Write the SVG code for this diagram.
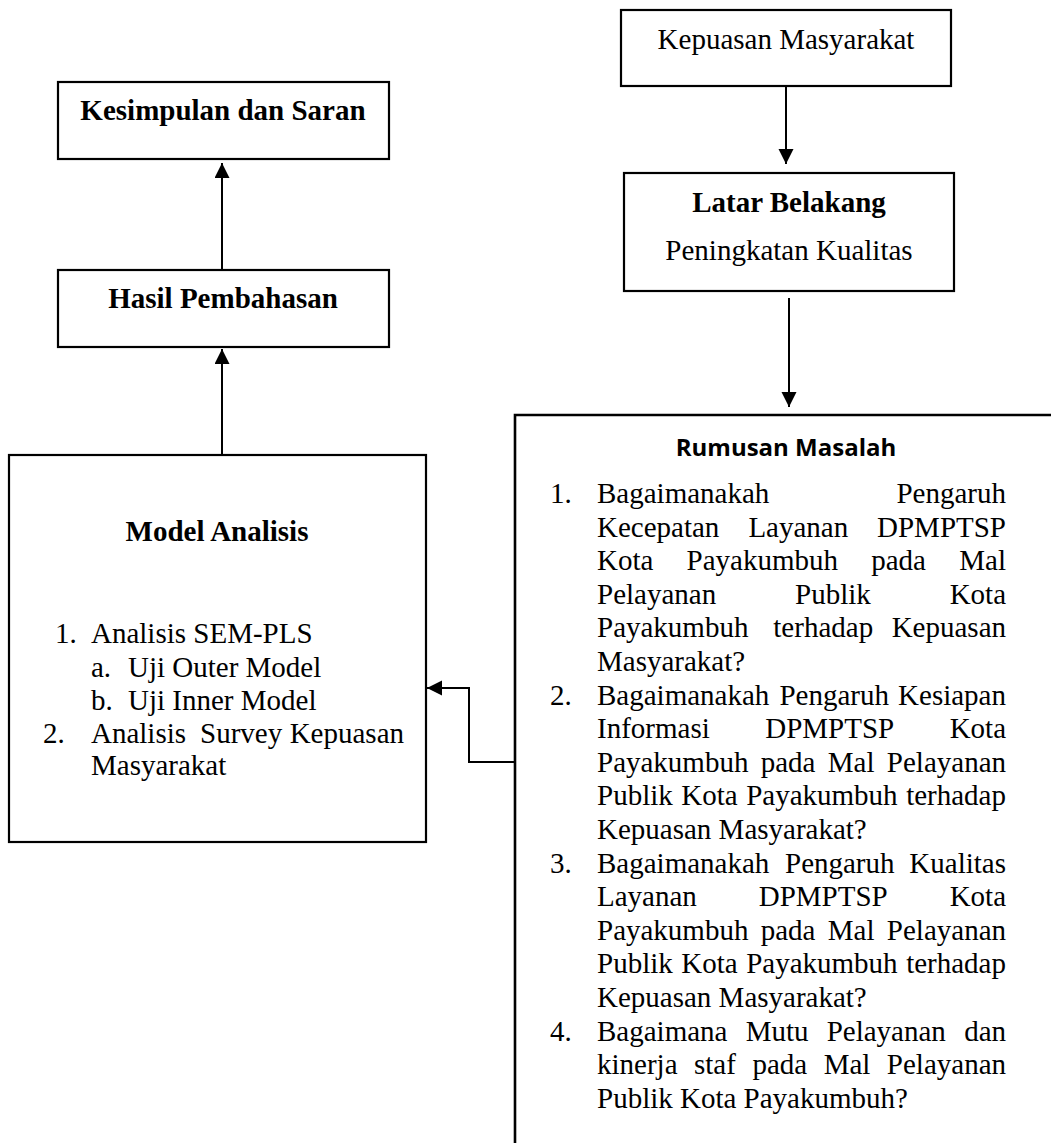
<svg xmlns="http://www.w3.org/2000/svg" width="1051" height="1143" viewBox="0 0 1051 1143">
<style>
.box{fill:#fff;stroke:#000;stroke-width:2.2}
.t{font-family:"Liberation Serif","Times New Roman",serif;font-size:29px;fill:#000}
.b{font-weight:bold}
.c{text-anchor:middle}
.e{text-anchor:end}
.h{font-family:"Open Sans","Noto Sans",sans-serif;font-size:24px;font-weight:bold;fill:#000;text-anchor:middle}
.ln{fill:none;stroke:#000;stroke-width:2}
</style>
<defs>
<marker id="ah" markerWidth="16" markerHeight="16" refX="15" refY="7.5" orient="auto" markerUnits="userSpaceOnUse">
<path d="M0,0 L15,7.5 L0,15 Z" fill="#000"/>
</marker>
</defs>
<rect width="1051" height="1143" fill="#fff"/>

<g id="connectors">
<line class="ln" x1="786" y1="86" x2="786" y2="164" marker-end="url(#ah)"/>
<line class="ln" x1="789" y1="298" x2="789" y2="407" marker-end="url(#ah)"/>
<line class="ln" x1="222" y1="270" x2="222" y2="163" marker-end="url(#ah)"/>
<line class="ln" x1="222" y1="455" x2="222" y2="349" marker-end="url(#ah)"/>
<polyline class="ln" points="515,762 469,762 469,688 427,688" marker-end="url(#ah)"/>
</g>

<g id="kepuasan">
<rect class="box" x="621" y="10" width="330" height="76"/>
<text class="t c" x="786" y="49">Kepuasan Masyarakat</text>
</g>

<g id="latar">
<rect class="box" x="624" y="173" width="330" height="118"/>
<text class="t b c" x="789" y="212">Latar Belakang</text>
<text class="t c" x="789" y="260">Peningkatan Kualitas</text>
</g>

<g id="kesimpulan">
<rect class="box" x="58" y="82" width="331" height="77"/>
<text class="t b c" x="223" y="120">Kesimpulan dan Saran</text>
</g>

<g id="hasil">
<rect class="box" x="58" y="270" width="331" height="77"/>
<text class="t b c" x="223" y="308">Hasil Pembahasan</text>
</g>

<g id="model">
<rect class="box" x="9" y="455" width="417" height="387"/>
<text class="t b c" x="217" y="541">Model Analisis</text>
<text class="t" x="55" y="643">1.</text>
<text class="t" x="91" y="643">Analisis SEM-PLS</text>
<text class="t" x="91" y="677">a.</text>
<text class="t" x="128" y="677">Uji Outer Model</text>
<text class="t" x="91" y="710">b.</text>
<text class="t" x="128" y="710">Uji Inner Model</text>
<text class="t" x="43" y="743">2.</text>
<text class="t" x="91" y="743">Analisis</text>
<text class="t" x="200" y="743">Survey</text>
<text class="t e" x="404" y="743">Kepuasan</text>
<text class="t" x="91" y="775">Masyarakat</text>
</g>

<g id="rumusan">
<path d="M515,1145 L515,415 L1053,415" fill="none" stroke="#000" stroke-width="2.6"/>
<text class="h" x="786" y="456">Rumusan Masalah</text>
<text class="t" x="550" y="503">1.</text>
<text class="t" x="597" y="503">Bagaimanakah</text>
<text class="t e" x="1006" y="503">Pengaruh</text>
<text class="t" x="597" y="536.6">Kecepatan</text>
<text class="t" x="748.4" y="536.6">Layanan</text>
<text class="t e" x="1006" y="536.6">DPMPTSP</text>
<text class="t" x="597" y="570.2">Kota</text>
<text class="t" x="686.6" y="570.2">Payakumbuh</text>
<text class="t" x="871.2" y="570.2">pada</text>
<text class="t e" x="1006" y="570.2">Mal</text>
<text class="t" x="597" y="603.8">Pelayanan</text>
<text class="t" x="795" y="603.8">Publik</text>
<text class="t e" x="1006" y="603.8">Kota</text>
<text class="t" x="597" y="637.4">Payakumbuh</text>
<text class="t" x="773.3" y="637.4">terhadap</text>
<text class="t e" x="1006" y="637.4">Kepuasan</text>
<text class="t" x="597" y="671">Masyarakat?</text>

<text class="t" x="550" y="704.6">2.</text>
<text class="t" x="597" y="704.6">Bagaimanakah</text>
<text class="t" x="779.4" y="704.6">Pengaruh</text>
<text class="t e" x="1006" y="704.6">Kesiapan</text>
<text class="t" x="597" y="738.2">Informasi</text>
<text class="t" x="765.2" y="738.2">DPMPTSP</text>
<text class="t e" x="1006" y="738.2">Kota</text>
<text class="t" x="597" y="771.8">Payakumbuh</text>
<text class="t" x="760.7" y="771.8">pada</text>
<text class="t" x="827.8" y="771.8">Mal</text>
<text class="t e" x="1006" y="771.8">Pelayanan</text>
<text class="t" x="597" y="805.4">Publik</text>
<text class="t" x="681.3" y="805.4">Kota</text>
<text class="t" x="746.2" y="805.4">Payakumbuh</text>
<text class="t e" x="1006" y="805.4">terhadap</text>
<text class="t" x="597" y="839">Kepuasan Masyarakat?</text>

<text class="t" x="550" y="872.6">3.</text>
<text class="t" x="597" y="872.6">Bagaimanakah</text>
<text class="t" x="785" y="872.6">Pengaruh</text>
<text class="t e" x="1006" y="872.6">Kualitas</text>
<text class="t" x="597" y="906.2">Layanan</text>
<text class="t" x="758.7" y="906.2">DPMPTSP</text>
<text class="t e" x="1006" y="906.2">Kota</text>
<text class="t" x="597" y="939.8">Payakumbuh</text>
<text class="t" x="760.7" y="939.8">pada</text>
<text class="t" x="827.8" y="939.8">Mal</text>
<text class="t e" x="1006" y="939.8">Pelayanan</text>
<text class="t" x="597" y="973.4">Publik</text>
<text class="t" x="681.3" y="973.4">Kota</text>
<text class="t" x="746.2" y="973.4">Payakumbuh</text>
<text class="t e" x="1006" y="973.4">terhadap</text>
<text class="t" x="597" y="1007">Kepuasan Masyarakat?</text>

<text class="t" x="550" y="1040.6">4.</text>
<text class="t" x="597" y="1040.6">Bagaimana</text>
<text class="t" x="745.7" y="1040.6">Mutu</text>
<text class="t" x="826.7" y="1040.6">Pelayanan</text>
<text class="t e" x="1006" y="1040.6">dan</text>
<text class="t" x="597" y="1074.2">kinerja</text>
<text class="t" x="694" y="1074.2">staf</text>
<text class="t" x="752.4" y="1074.2">pada</text>
<text class="t" x="823.7" y="1074.2">Mal</text>
<text class="t e" x="1006" y="1074.2">Pelayanan</text>
<text class="t" x="597" y="1107.8">Publik Kota Payakumbuh?</text>
</g>
</svg>
